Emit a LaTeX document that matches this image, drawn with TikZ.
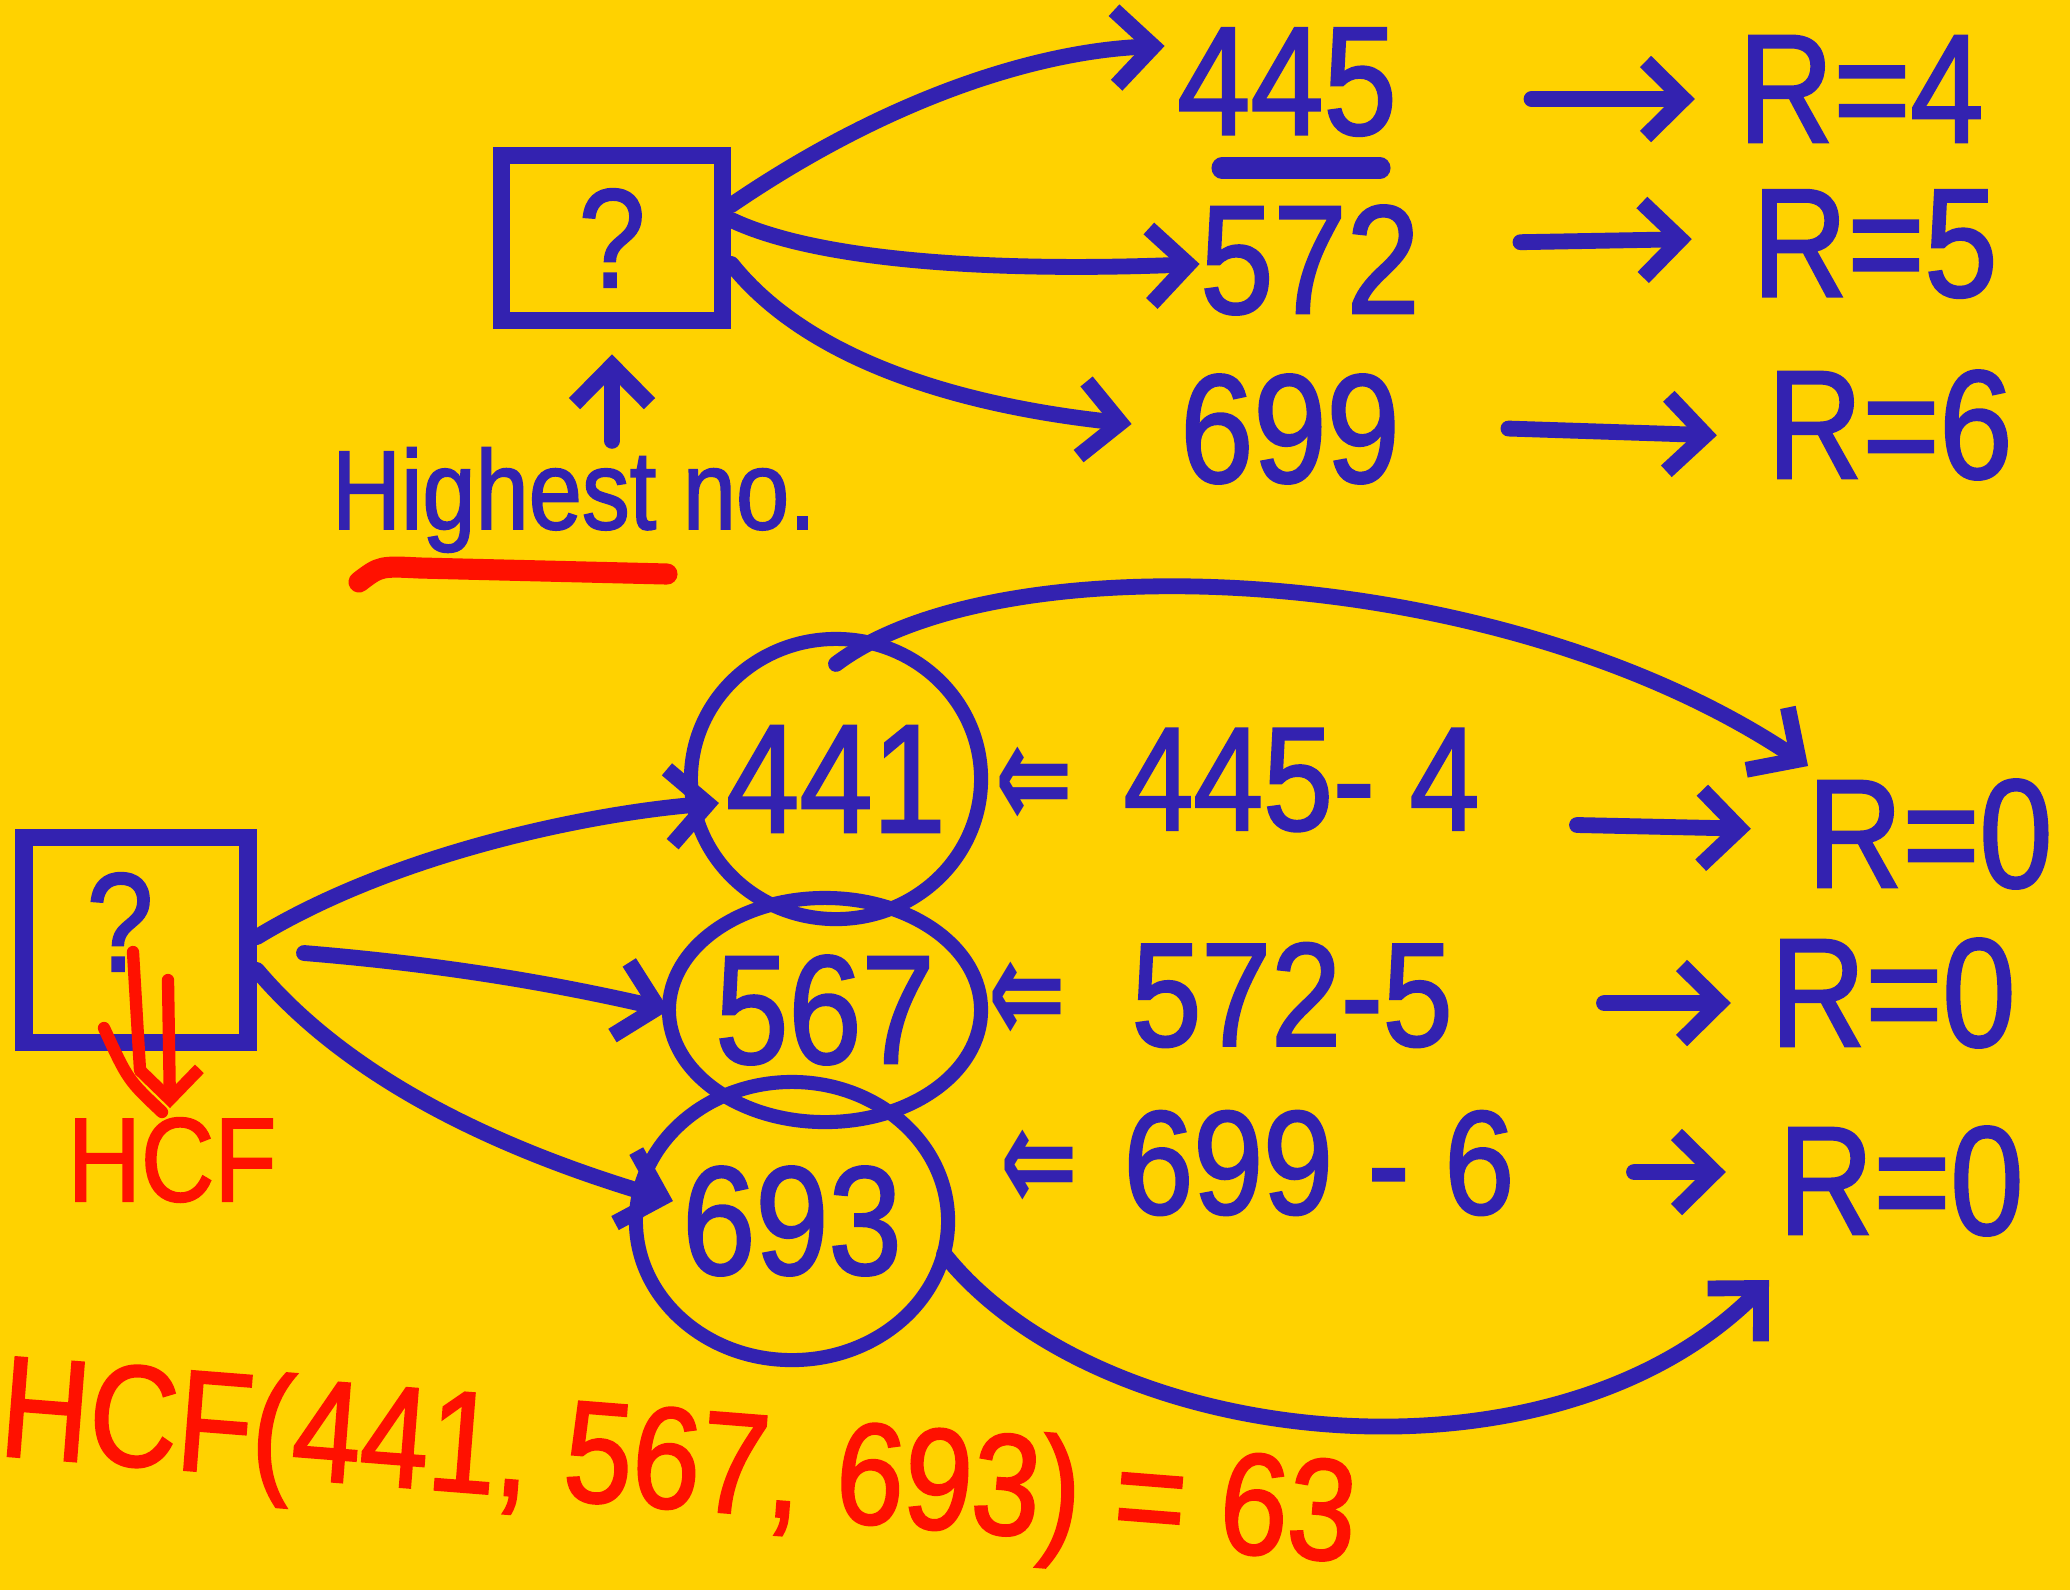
\documentclass[tikz,border=0pt]{standalone}
\usepackage{fontspec}
\setmainfont[FakeStretch=0.85,FakeBold=1.5]{Liberation Sans}
\newfontfamily\dv[FakeStretch=0.6]{DejaVu Sans Bold}
\usetikzlibrary{arrows.meta,shapes.geometric}
\definecolor{bg}{HTML}{FFD200}
\definecolor{pen}{HTML}{3322B0}
\definecolor{rpen}{HTML}{FF1100}
\begin{document}
\begin{tikzpicture}[x=0.01cm,y=-0.01cm,
  ink/.style={draw=pen,line width=4.5pt,line cap=round,line join=round},
  rink/.style={draw=rpen,line width=4pt,line cap=round,line join=round},
  tip/.style={-{Straight Barb[length=0.38cm,width=0.75cm]}},
  num/.style={text=pen,font=\fontsize{44}{50}\selectfont,inner sep=0pt},
  enum/.style={text=pen,font=\fontsize{42}{48}\selectfont,inner sep=0pt,anchor=west},
  rnum/.style={text=rpen,font=\fontsize{44}{50}\selectfont,inner sep=0pt},
  qbox/.style={draw=pen,line width=5pt,rectangle,text=pen,font=\fontsize{40}{46}\selectfont,inner sep=0pt},
  ring/.style={draw=pen,line width=4pt,ellipse,inner sep=0pt,outer sep=0pt},
  ringtext/.style={text=pen,font=\fontsize{44}{50}\selectfont}]
\useasboundingbox (0,0) rectangle (2070,1590);
\fill[bg] (0,0) rectangle (2070,1590);

% ---------- top part ----------
\node[qbox,minimum width=2.21cm,minimum height=1.65cm] (boxT) at (612,238) {?};
\node[text=pen,font=\fontsize{32}{38}\selectfont,inner sep=0pt] (hl) at (574,500) {Highest no.};
\draw[ink,tip,shorten >=0.25cm] (hl.north -| boxT) ++(0,-6) coordinate (hlt) (hlt) -- (boxT.south);
\draw[rink,line width=6pt] (359,582) .. controls (380,566) .. (420,568) -- (667,574);

\node[num] (n445) at (1287,82) {445};
\node[num] (n572) at (1310,260) {572};
\node[num] (n699) at (1290,429) {699};
\draw[ink,line width=6pt] (1222,168) -- (1380,168);

\node[num] (R4) at (1861,89) {R=4};
\node[num] (R5) at (1875,244) {R=5};
\node[num] (R6) at (1890,425) {R=6};

\draw[ink,tip] (boxT.east |- 0,205) .. controls (900,90) and (1050,50) .. ([shift={(-12,-36)}]n445.west);
\draw[ink,tip] (boxT.east |- 0,220) .. controls (820,262) and (1000,272) .. ([shift={(0,4)}]n572.west);
\draw[ink,tip] (boxT.east |- 0,264) .. controls (820,375) and (1000,410) .. ([shift={(-48,-5)}]n699.west);

\draw[ink,tip,shorten <=1.34cm,shorten >=0.43cm] ([yshift=-0.1cm]n445.east |- R4) -- ([yshift=-0.1cm]R4.west);
\draw[ink,tip,shorten <=1.0cm,shorten >=0.6cm] (n572.east |- R5) -- ([yshift=0.06cm]R5.west);
\draw[ink,tip,shorten <=1.08cm,shorten >=0.5cm] (n699.east |- R6) -- ([yshift=-0.12cm]R6.west);

% ---------- bottom part ----------
\node[qbox,minimum width=2.24cm,minimum height=2.05cm] (boxB) at (136,940) {};
\node[text=pen,font=\fontsize{40}{46}\selectfont,inner sep=0pt] (qB) at (120,922) {?};

\node[ring,minimum width=2.9cm,minimum height=2.8cm,label={[ringtext]center:441}] (c441) at (836,779) {};
\node[ring,minimum width=3.12cm,minimum height=2.24cm,label={[ringtext]center:567}] (c567) at (825,1010) {};
\node[ring,minimum width=3.12cm,minimum height=2.78cm,label={[ringtext]center:693}] (c693) at (792,1221) {};

\node[enum] (e1) at (995,780) {{\dv\fontsize{44}{48}\selectfont ⇐}\hspace{0.5cm}445- 4};
\node[enum] (e2) at (988,995) {{\dv\fontsize{44}{48}\selectfont ⇐}\hspace{0.65cm}572-5};
\node[enum] (e3) at (1000,1163) {{\dv\fontsize{44}{48}\selectfont ⇐}\hspace{0.45cm}699 - 6};

\node[num] (Z1) at (1930,834) {R=0};
\node[num] (Z2) at (1893,993) {R=0};
\node[num] (Z3) at (1901,1181) {R=0};

\coordinate (a1) at (1577,825);
\coordinate (a2) at (1604,1003);
\coordinate (a3) at (1634,1172);
\draw[ink,tip,shorten >=0.56cm] (a1) -- ([yshift=0.04cm]Z1.west);
\draw[ink,tip,shorten >=0.39cm] (a2) -- ([yshift=-0.1cm]Z2.west);
\draw[ink,tip,shorten >=0.52cm] (a3) -- ([yshift=0.09cm]Z3.west);

\draw[ink,tip] (boxB.east |- 0,937) .. controls (400,850) and (600,812) .. ([shift={(28,24)}]c441.west);
\draw[ink,tip] (304,953) .. controls (450,965) and (560,985) .. (c567.west);
\draw[ink,tip] (boxB.east |- 0,970) .. controls (350,1080) and (500,1150) .. ([shift={(37,-20)}]c693.west);

\draw[ink,tip] ([yshift=-0.25cm]c441.north) .. controls (1000,540) and (1500,560) .. ([shift={(-122,-68)}]Z1.center);
\draw[ink,tip] ([shift={(-4,33)}]c693.east) .. controls (1100,1450) and (1550,1500) .. ([shift={(-132,99)}]Z3.center);

% red HCF marks
\node[rnum,font=\fontsize{34}{40}\selectfont] (hcf) at (172,1160) {HCF};
\draw[rink,line width=3.5pt] (133,952) -- (140,1070);
\draw[rink,line width=3.5pt,-{Straight Barb[length=0.3cm,width=0.6cm]}] (168,980) -- (170,1108);
\draw[rink,line width=3.5pt] (104,1028) .. controls (128,1080) .. (162,1112);

\node[rnum,font=\fontsize{41}{48}\selectfont,rotate=-4.5,anchor=west] (res) at (0,1418) {HCF(441, 567, 693) = 63};
\end{tikzpicture}
\end{document}
